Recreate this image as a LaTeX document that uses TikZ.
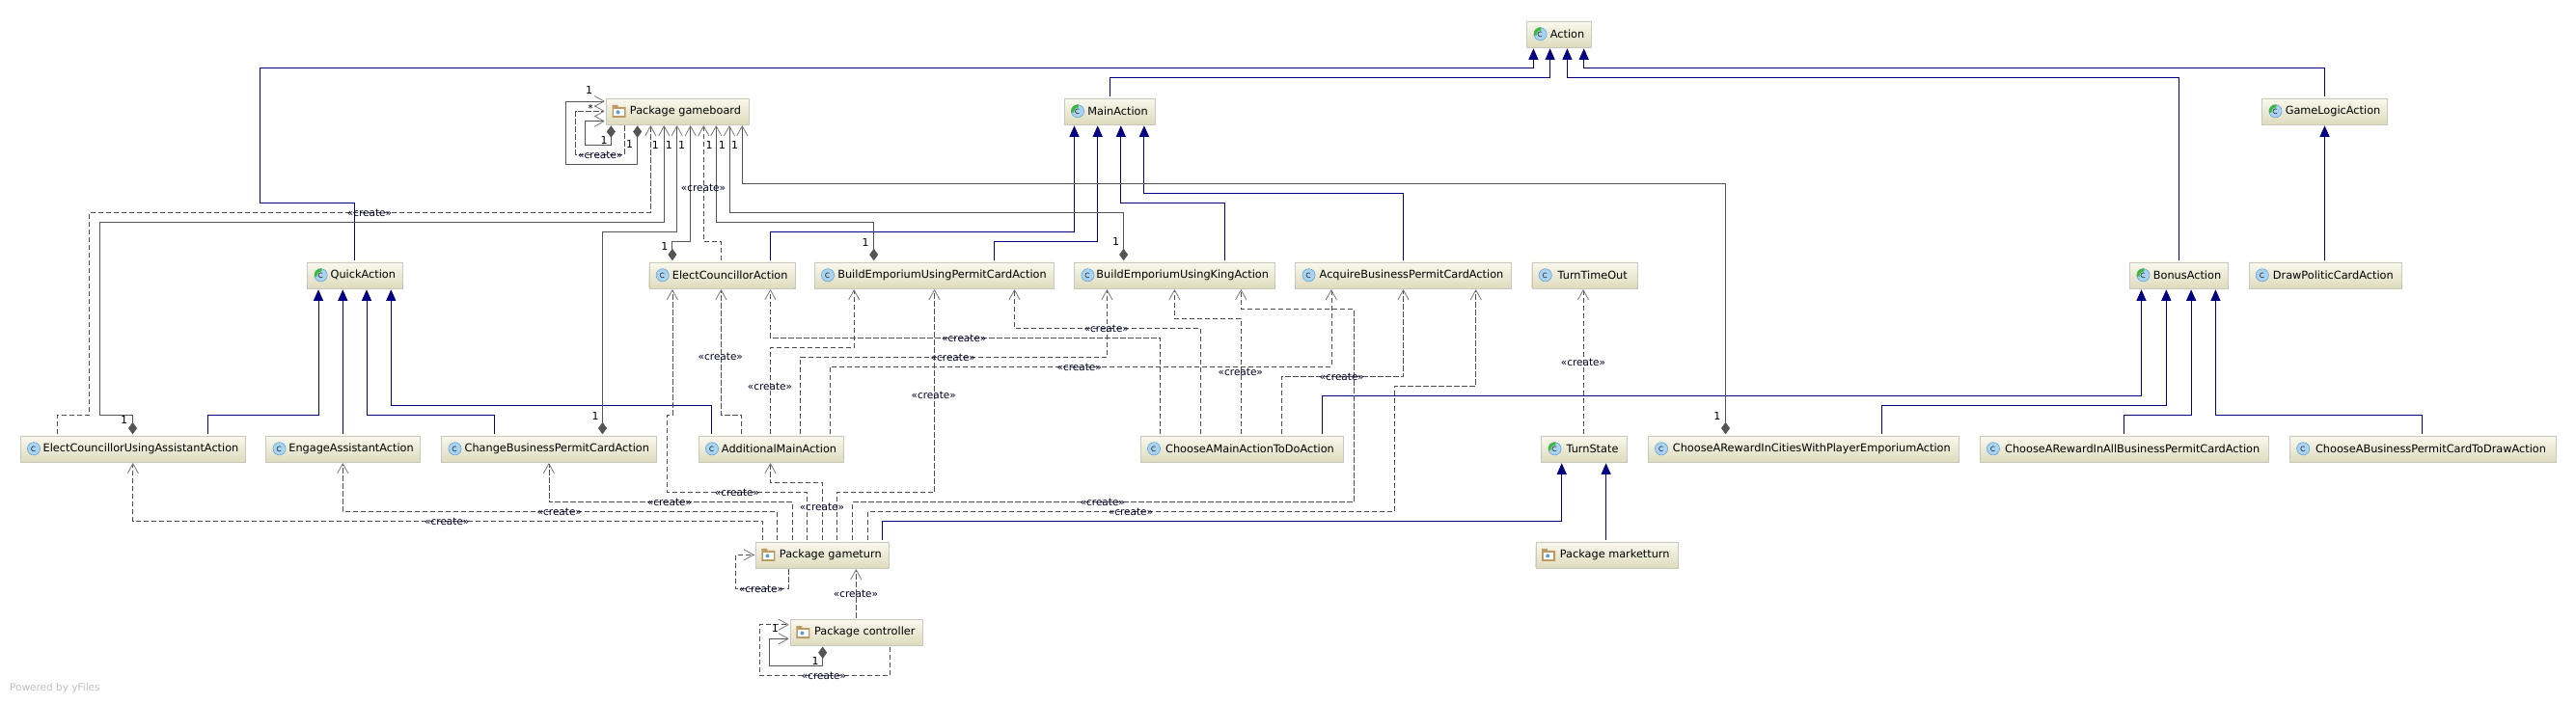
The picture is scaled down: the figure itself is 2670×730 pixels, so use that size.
\documentclass[tikz,border=0pt]{standalone}
\usepackage{fontspec}
\setmainfont{DejaVu Sans}
\usetikzlibrary{arrows.meta,shadows}
\definecolor{boxtop}{HTML}{FAF9EE}
\definecolor{boxbot}{HTML}{DEDBBD}
\definecolor{boxline}{HTML}{C8C8C0}
\definecolor{navyline}{HTML}{000080}
\definecolor{ownline}{HTML}{555555}
\definecolor{barbline}{HTML}{777777}
\definecolor{iconblue}{HTML}{A8D4F2}
\definecolor{iconring}{HTML}{5C9BD0}
\definecolor{icongreen}{HTML}{3CB83C}
\definecolor{foldertan}{HTML}{BE9A66}
\tikzset{
  umlbox/.style={rectangle,draw=boxline,top color=boxtop,bottom color=boxbot,minimum height=27,
    inner sep=0pt,outer sep=1.5pt,font=\fontsize{11.3}{13}\selectfont,text=black,
    execute at begin node={\hspace*{17pt}},
    drop shadow={shadow xshift=0.5pt,shadow yshift=-1.2pt,fill=black!45,opacity=1}},
  classbox/.style={umlbox,path picture={\pic at ([xshift=14]path picture bounding box.west) {classicon};}},
  abstractbox/.style={umlbox,path picture={\pic at ([xshift=14]path picture bounding box.west) {abstracticon};}},
  packagebox/.style={umlbox,path picture={\pic at ([xshift=13.5]path picture bounding box.west) {foldericon};}},
  pics/classicon/.style={code={
    \fill[iconblue,draw=iconring,line width=.5pt] (0,0) circle (6.6pt);
    \draw[black!75,line width=.7pt] (1.6,-1.9) arc (50:310:2.5pt);}},
  pics/abstracticon/.style={code={
    \fill[iconblue,draw=iconring,line width=.5pt] (0,0) circle (6.6pt);
    \fill[icongreen] (0,0) -- (80:6.9pt) arc (80:195:6.9pt) -- cycle;
    \fill[iconblue] (0,0) circle (3.8pt);
    \draw[black!75,line width=.7pt] (1.6,-1.9) arc (50:310:2.5pt);}},
  pics/foldericon/.style={code={
    \fill[foldertan] (-7,-6.5) rectangle (-1,-3) (-7,-4.5) rectangle (7,6.5);
    \fill[white!92!boxtop] (-5.2,-2.5) rectangle (5.2,4.7);
    \fill[iconring] (-1,1) circle (2pt);}},
  extends/.style={draw=navyline,line width=.9pt,-{Triangle[length=11.5pt,width=10pt,fill=navyline]}},
  uses/.style={draw=black!70,line width=.75pt,dash pattern=on 5.5pt off 2.5pt,
    -{Straight Barb[length=10pt,width=11pt,color=barbline,line width=.8pt,round]}},
  owns/.style={draw=ownline,line width=.9pt,
    {Diamond[length=12.5pt,width=9pt,fill=ownline]}-{Straight Barb[length=10pt,width=11pt,color=barbline,line width=.8pt,round]}},
  createlbl/.style={inner sep=0pt,font=\fontsize{10.5}{12}\selectfont,text=black!85!blue},
  multlbl/.style={inner sep=0pt,font=\fontsize{11}{12}\selectfont,text=black},
}
\begin{document}
\begin{tikzpicture}[x=1pt,y=-1pt]
\useasboundingbox (0,0) rectangle (2670,730);

% classes
\node[abstractbox,minimum width=67] (action) at (1616,35.3) {Action};
\node[packagebox,minimum width=148] (gameboard) at (702,115.3) {Package gameboard};
\node[abstractbox,minimum width=94] (mainaction) at (1150,115.3) {MainAction};
\node[abstractbox,minimum width=130] (gamelogic) at (2409.5,115.3) {GameLogicAction};
\node[abstractbox,minimum width=98.4] (quick) at (367.8,285.3) {QuickAction};
\node[classbox,minimum width=151] (elect) at (748.2,285.3) {ElectCouncillorAction};
\node[classbox,minimum width=248] (buildpermit) at (968,285.3) {BuildEmporiumUsingPermitCardAction};
\node[classbox,minimum width=207.5] (buildking) at (1217.2,285.3) {BuildEmporiumUsingKingAction};
\node[classbox,minimum width=224] (acquire) at (1454.5,285.3) {AcquireBusinessPermitCardAction};
\node[classbox,minimum width=109] (timeout) at (1642.2,285.3) {TurnTimeOut};
\node[abstractbox,minimum width=102] (bonus) at (2258.5,285.3) {BonusAction};
\node[classbox,minimum width=158] (drawcard) at (2409.8,285.3) {DrawPoliticCardAction};
\node[classbox,minimum width=233] (electassist) at (137.5,465.3) {ElectCouncillorUsingAssistantAction};
\node[classbox,minimum width=160] (engage) at (355.6,465.3) {EngageAssistantAction};
\node[classbox,minimum width=222.5] (changecard) at (568.8,465.3) {ChangeBusinessPermitCardAction};
\node[classbox,minimum width=150] (additional) at (799,465.3) {AdditionalMainAction};
\node[classbox,minimum width=210] (choosemain) at (1287,465.3) {ChooseAMainActionToDoAction};
\node[abstractbox,minimum width=89] (turnstate) at (1642,465.3) {TurnState};
\node[classbox,minimum width=322.6] (rewardcities) at (1869.3,465.3) {ChooseARewardInCitiesWithPlayerEmporiumAction};
\node[classbox,minimum width=299.6] (rewardall) at (2201.7,465.3) {ChooseARewardInAllBusinessPermitCardAction};
\node[classbox,minimum width=275.6] (drawbusiness) at (2511,465.3) {ChooseABusinessPermitCardToDrawAction};
\node[packagebox,minimum width=138.7] (gameturn) at (852.3,575.3) {Package gameturn};
\node[packagebox,minimum width=147] (marketturn) at (1665.2,575.3) {Package marketturn};
\node[packagebox,minimum width=137.7] (controller) at (887.8,655.5) {Package controller};

% inheritance
\draw[extends] (quick.north) -- (367.8,210.3) -- (269.8,210.3) -- (269.8,70.3) -- (1589.4,70.3) -- (action.south -| 1589.4,0);
\draw[extends] (mainaction.north) -- (1150,80.3) -- (1606.6,80.3) -- (action.south -| 1606.6,0);
\draw[extends] (bonus.north) -- (2258.5,80.3) -- (1624.4,80.3) -- (action.south -| 1624.4,0);
\draw[extends] (gamelogic.north) -- (2409.5,70.3) -- (1641.7,70.3) -- (action.south -| 1641.7,0);
\draw[extends] (elect.north -| 798.5,0) -- (798.5,240.3) -- (1113.5,240.3) -- (mainaction.south -| 1113.5,0);
\draw[extends] (buildpermit.north -| 1030.3,0) -- (1030.3,250.3) -- (1137.7,250.3) -- (mainaction.south -| 1137.7,0);
\draw[extends] (buildking.north -| 1269.7,0) -- (1269.7,210.3) -- (1161.8,210.3) -- (mainaction.south -| 1161.8,0);
\draw[extends] (acquire.north) -- (1454.5,200.3) -- (1185.9,200.3) -- (mainaction.south -| 1185.9,0);
\draw[extends] (electassist.north -| 215.3,0) -- (215.3,430.3) -- (330,430.3) -- (quick.south -| 330,0);
\draw[extends] (engage.north -| 355.3,0) -- (quick.south -| 355.3,0);
\draw[extends] (changecard.north -| 512.6,0) -- (512.6,430.3) -- (380,430.3) -- (quick.south -| 380,0);
\draw[extends] (additional.north -| 737.6,0) -- (737.6,420.3) -- (405.3,420.3) -- (quick.south -| 405.3,0);
\draw[extends] (choosemain.north -| 1370.7,0) -- (1370.7,410.3) -- (2219.5,410.3) -- (bonus.south -| 2219.5,0);
\draw[extends] (rewardcities.north -| 1950.2,0) -- (1950.2,420.3) -- (2245.3,420.3) -- (bonus.south -| 2245.3,0);
\draw[extends] (rewardall.north) -- (2201.7,430.3) -- (2271.1,430.3) -- (bonus.south -| 2271.1,0);
\draw[extends] (drawbusiness.north -| 2510.5,0) -- (2510.5,430.3) -- (2296.4,430.3) -- (bonus.south -| 2296.4,0);
\draw[extends] (drawcard.north -| 2409.5,0) -- (gamelogic.south -| 2409.5,0);
\draw[extends] (gameturn.north -| 914.4,0) -- (914.4,540.3) -- (1618.7,540.3) -- (turnstate.south -| 1618.7,0);
\draw[extends] (marketturn.north -| 1664.6,0) -- (turnstate.south -| 1664.6,0);

% gameboard self references
\draw[owns] (gameboard.south -| 660.7,0) -- (660.7,170) -- (586.7,170) -- (586.7,105) -- (gameboard.west |- 0,105);
\draw[uses] (gameboard.south -| 647.7,0) -- (647.7,160) -- (596.7,160) -- (596.7,115.3) -- (gameboard.west);
\draw[owns] (gameboard.south -| 633.3,0) -- (633.3,150) -- (606.7,150) -- (606.7,125.7) -- (gameboard.west |- 0,125.7);
\node[multlbl] (m1) at (610.7,93) {1};
\node[multlbl] (m2) at (612,112) {*};
\node[multlbl] (m3) at (626,145) {1};
\node[multlbl] (m4) at (652.7,149) {1};
\node[createlbl] (c1) at (622.3,161) {«create»};

% into gameboard
\draw[uses] (electassist.north -| 59.7,0) -- (59.7,430.3) -- (92.4,430.3) -- (92.4,220.3) -- (674.3,220.3) -- (gameboard.south -| 674.3,0);
\draw[owns] (electassist.north) -- (137.5,430.3) -- (103.3,430.3) -- (103.3,230.3) -- (688.3,230.3) -- (gameboard.south -| 688.3,0);
\draw[owns] (changecard.north -| 624.5,0) -- (624.5,240.3) -- (701.7,240.3) -- (gameboard.south -| 701.7,0);
\draw[owns] (elect.north -| 696.9,0) -- (696.9,250.3) -- (715.7,250.3) -- (gameboard.south -| 715.7,0);
\draw[uses] (elect.north -| 747.4,0) -- (747.4,250.3) -- (729.3,250.3) -- (gameboard.south -| 729.3,0);
\draw[owns] (buildpermit.north -| 905.7,0) -- (905.7,230.3) -- (742.3,230.3) -- (gameboard.south -| 742.3,0);
\draw[owns] (buildking.north -| 1164.6,0) -- (1164.6,220.3) -- (756,220.3) -- (gameboard.south -| 756,0);
\draw[owns] (rewardcities.north -| 1788.5,0) -- (1788.5,190.3) -- (769.3,190.3) -- (gameboard.south -| 769.3,0);
\node[multlbl] (m5) at (679.3,150) {1};
\node[multlbl] (m6) at (693.3,150) {1};
\node[multlbl] (m7) at (706.7,150) {1};
\node[multlbl] (m8) at (735,150) {1};
\node[multlbl] (m9) at (748.3,150) {1};
\node[multlbl] (m10) at (761.7,150) {1};
\node[multlbl] (m11) at (128.6,435.7) {1};
\node[multlbl] (m12) at (617,431) {1};
\node[multlbl] (m13) at (688.8,255.7) {1};
\node[multlbl] (m14) at (897,251.7) {1};
\node[multlbl] (m15) at (1156.6,250.3) {1};
\node[multlbl] (m16) at (1779.8,431) {1};
\node[createlbl] (c2) at (383,220.7) {«create»};
\node[createlbl] (c3) at (729,195.3) {«create»};

% out of gameturn
\draw[uses] (gameturn.north -| 790.7,0) -- (790.7,540.7) -- (137.8,540.7) -- (electassist.south -| 137.8,0);
\draw[uses] (gameturn.north -| 805.7,0) -- (805.7,530.7) -- (355.3,530.7) -- (engage.south -| 355.3,0);
\draw[uses] (gameturn.north -| 821.3,0) -- (821.3,520.7) -- (568.9,520.7) -- (changecard.south -| 568.9,0);
\draw[uses] (gameturn.north -| 836.7,0) -- (836.7,510.7) -- (691.7,510.7) -- (691.7,430.3) -- (696.9,430.3) -- (elect.south -| 696.9,0);
\draw[uses] (gameturn.north -| 852.7,0) -- (852.7,500.7) -- (798.5,500.7) -- (additional.south -| 798.5,0);
\draw[uses] (gameturn.north -| 867.3,0) -- (867.3,510.7) -- (968.5,510.7) -- (buildpermit.south -| 968.5,0);
\draw[uses] (gameturn.north -| 883.7,0) -- (883.7,520.7) -- (1402.9,520.7) -- (1402.9,320.3) -- (1286.3,320.3) -- (buildking.south -| 1286.3,0);
\draw[uses] (gameturn.north -| 899.3,0) -- (899.3,530.7) -- (1445.3,530.7) -- (1445.3,400.3) -- (1529.7,400.3) -- (acquire.south -| 1529.7,0);
\draw[uses] (gameturn.south -| 817.7,0) -- (817.7,610) -- (762.3,610) -- (762.3,575.3) -- (gameturn.west);
\node[createlbl] (c4) at (463.3,541) {«create»};
\node[createlbl] (c5) at (579.8,531) {«create»};
\node[createlbl] (c6) at (694,521) {«create»};
\node[createlbl] (c7) at (764,511) {«create»};
\node[createlbl] (c8) at (851.9,526) {«create»};
\node[createlbl] (c9) at (967.7,410.3) {«create»};
\node[createlbl] (c10) at (1142.8,521) {«create»};
\node[createlbl] (c11) at (1172,531) {«create»};
\node[createlbl] (c12) at (789,611) {«create»};

% additional main action
\draw[uses] (additional.north -| 768.6,0) -- (768.6,430.3) -- (747.4,430.3) -- (elect.south -| 747.4,0);
\draw[uses] (additional.north -| 798.5,0) -- (798.5,360.3) -- (885.2,360.3) -- (buildpermit.south -| 885.2,0);
\draw[uses] (additional.north -| 829.5,0) -- (829.5,370.3) -- (1147.4,370.3) -- (buildking.south -| 1147.4,0);
\draw[uses] (additional.north -| 859.9,0) -- (859.9,380.3) -- (1379.9,380.3) -- (acquire.south -| 1379.9,0);
\node[createlbl] (c13) at (746.8,370) {«create»};
\node[createlbl] (c14) at (798,401) {«create»};
\node[createlbl] (c15) at (987.8,371) {«create»};
\node[createlbl] (c16) at (1118.7,381) {«create»};

% choose a main action
\draw[uses] (choosemain.north -| 1202.5,0) -- (1202.5,350.3) -- (798.5,350.3) -- (elect.south -| 798.5,0);
\draw[uses] (choosemain.north -| 1244.4,0) -- (1244.4,340.3) -- (1051.5,340.3) -- (buildpermit.south -| 1051.5,0);
\draw[uses] (choosemain.north -| 1286.3,0) -- (1286.3,330.3) -- (1217.4,330.3) -- (buildking.south -| 1217.4,0);
\draw[uses] (choosemain.north -| 1328.2,0) -- (1328.2,390.3) -- (1454.5,390.3) -- (acquire.south);
\node[createlbl] (c17) at (999.3,350.7) {«create»};
\node[createlbl] (c18) at (1146.8,341) {«create»};
\node[createlbl] (c19) at (1285.8,386) {«create»};
\node[createlbl] (c20) at (1390.8,391) {«create»};

% turn state and controller
\draw[uses] (turnstate.north -| 1641,0) -- (timeout.south -| 1641,0);
\node[createlbl] (c21) at (1641,376) {«create»};
\draw[uses] (controller.north -| 887.3,0) -- (gameturn.south -| 887.3,0);
\draw[uses] (controller.south -| 922.3,0) -- (922.3,700.3) -- (787.3,700.3) -- (787.3,647.7) -- (controller.west |- 0,647.7);
\draw[owns] (controller.south -| 852.7,0) -- (852.7,690.3) -- (797.3,690.3) -- (797.3,662.3) -- (controller.west |- 0,662.3);
\node[createlbl] (c22) at (887,616.3) {«create»};
\node[createlbl] (c23) at (854,701) {«create»};
\node[multlbl] (m17) at (803.3,651.7) {1};
\node[multlbl] (m18) at (845,685) {1};

\node[font=\fontsize{10.5}{12}\selectfont,text=black!25,inner sep=0pt,anchor=west] (yfiles) at (10,714) {Powered by yFiles};
\end{tikzpicture}
\end{document}
